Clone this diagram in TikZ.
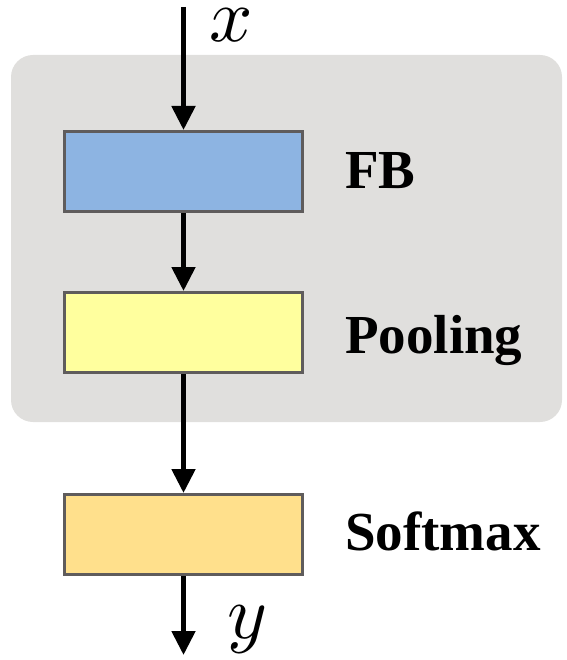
\documentclass[tikz,border=0pt]{standalone}
\usepackage{graphicx}
\usepackage{fontspec}
\setmainfont{Liberation Serif}
\usepackage{tikz}
\usetikzlibrary{arrows.meta, positioning}
\definecolor{panelgray}{RGB}{224, 223, 221}
\definecolor{edgegray}{RGB}{95, 92, 92}
\definecolor{fbblue}{RGB}{141, 180, 226}
\definecolor{poolyellow}{RGB}{255, 255, 158}
\definecolor{softorange}{RGB}{255, 224, 140}
\newcommand{\bigvar}[1]{\scalebox{7.6}{$#1$}}

\begin{document}
\begin{tikzpicture}[x=1pt, y=-1pt,
  stagebox/.style={draw=edgegray, line width=3pt, minimum width=238pt, minimum height=80pt, inner sep=0pt},
  stagelabel/.style={anchor=base west, inner sep=0pt, font=\fontsize{55}{60}\selectfont\bfseries},
  varlabel/.style={anchor=base west, inner sep=0pt},
  flow/.style={line width=5pt, -{Triangle[width=23pt, length=24pt]}}]
  \useasboundingbox (0,0) rectangle (566,660);
  % background panel
  \fill[panelgray, rounded corners=22pt] (11,55) rectangle (562,422);

  \node[stagebox, fill=fbblue] (fb) at (183.5,171.5) {};
  \node[stagebox, fill=poolyellow, below=78pt of fb] (pool) {};
  \node[stagebox, fill=softorange, below=119pt of pool] (soft) {};

  \node[stagelabel] (fblabel) at (345,189) {FB};
  \node[stagelabel] (poollabel) at (345,353) {Pooling};
  \node[stagelabel] (softlabel) at (345,550) {Softmax};

  \coordinate (in) at (183.5,7);
  \coordinate (out) at (183.5,655);
  \node[varlabel] (xlabel) at (209,42) {\bigvar{x}};
  \node[varlabel] (ylabel) at (227,638) {\bigvar{y}};

  \draw[flow] (in) -- (fb);
  \draw[flow] (fb) -- (pool);
  \draw[flow] (pool) -- (soft);
  \draw[flow] (soft) -- (out);
\end{tikzpicture}
\end{document}
